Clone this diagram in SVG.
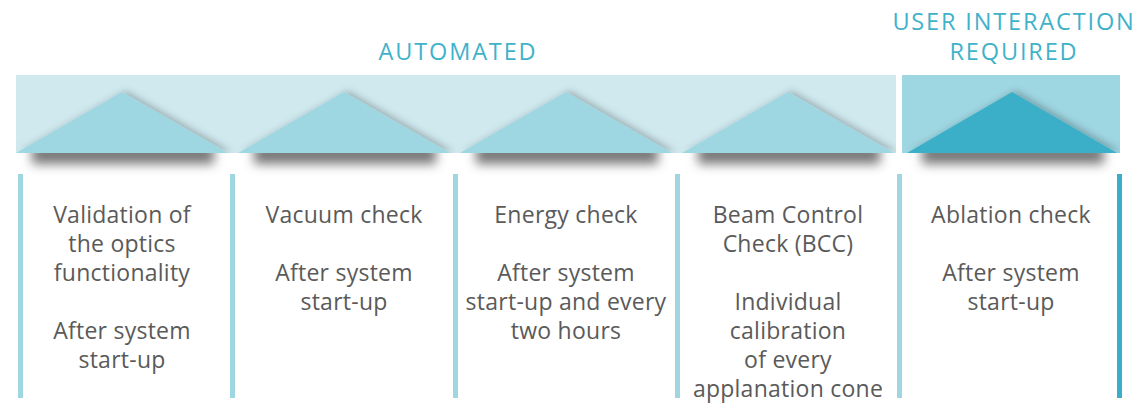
<svg xmlns="http://www.w3.org/2000/svg" width="1137" height="404" viewBox="0 0 1137 404">
  <defs>
    <filter id="under" x="-20%" y="-200%" width="140%" height="500%">
      <feGaussianBlur stdDeviation="5.5"/>
    </filter>
    <filter id="slope" x="-10%" y="-30%" width="130%" height="160%">
      <feDropShadow dx="4" dy="-1" stdDeviation="3.5" flood-color="#000" flood-opacity="0.25"/>
    </filter>
    <clipPath id="bandClip">
      <rect x="16" y="75" width="880" height="78"/>
      <rect x="902" y="75" width="218" height="78"/>
    </clipPath>
  </defs>
  <style>
    .head { font-family: "Open Sans", "Liberation Sans", sans-serif; font-size: 23.5px; fill: #3fb2ca; letter-spacing: 1.85px; text-anchor: middle; }
    .body { font-family: "Open Sans", "Liberation Sans", sans-serif; font-size: 23px; letter-spacing: 0.25px; fill: #5a5a5a; text-anchor: middle; }
    .band { fill: #cfe9ef; }
    .tri { fill: #9ed6e2; }
    .bar { fill: #9ed6e2; }
    .shade { fill: #555555; opacity: 0.8; }
  </style>

  <rect width="1137" height="404" fill="#ffffff"/>

  <!-- headings -->
  <text class="head" x="458" y="60">AUTOMATED</text>
  <text class="head" x="1014" y="30">USER INTERACTION</text>
  <text class="head" x="1014" y="60">REQUIRED</text>

  <!-- shadows under the band -->
  <g id="shadows">
    <rect class="shade" x="32" y="145" width="182" height="19" filter="url(#under)"/>
    <rect class="shade" x="254" y="145" width="182" height="19" filter="url(#under)"/>
    <rect class="shade" x="476" y="145" width="182" height="19" filter="url(#under)"/>
    <rect class="shade" x="698" y="145" width="182" height="19" filter="url(#under)"/>
    <rect class="shade" x="922" y="145" width="182" height="19" filter="url(#under)"/>
  </g>

  <!-- band backgrounds -->
  <rect class="band" x="16" y="75" width="880" height="78"/>
  <rect x="902" y="75" width="218" height="78" fill="#9ed6e2"/>

  <!-- triangles -->
  <g clip-path="url(#bandClip)">
    <polygon class="tri" points="16,153 122,92 228,153" filter="url(#slope)"/>
    <polygon class="tri" points="238,153 344,92 450,153" filter="url(#slope)"/>
    <polygon class="tri" points="460,153 566,92 672,153" filter="url(#slope)"/>
    <polygon class="tri" points="682,153 788,92 894,153" filter="url(#slope)"/>
    <polygon points="907,153 1012,92 1117,153" fill="#3aafc8" filter="url(#slope)"/>
  </g>

  <!-- column separators -->
  <g id="bars">
    <rect class="bar" x="18" y="174" width="5" height="224"/>
    <rect class="bar" x="230" y="174" width="5" height="224"/>
    <rect class="bar" x="453" y="174" width="5" height="224"/>
    <rect class="bar" x="675" y="174" width="5" height="224"/>
    <rect class="bar" x="897" y="174" width="5" height="224"/>
    <rect x="1117" y="174" width="5" height="224" fill="#3aaec8"/>
  </g>

  <g id="col1">
    <text class="body" x="122" y="223">Validation of</text>
    <text class="body" x="122" y="252">the optics</text>
    <text class="body" x="122" y="281">functionality</text>
    <text class="body" x="122" y="339">After system</text>
    <text class="body" x="122" y="368">start-up</text>
  </g>
  <g id="col2">
    <text class="body" x="344" y="223">Vacuum check</text>
    <text class="body" x="344" y="281">After system</text>
    <text class="body" x="344" y="310">start-up</text>
  </g>
  <g id="col3">
    <text class="body" x="566" y="223">Energy check</text>
    <text class="body" x="566" y="281">After system</text>
    <text class="body" x="566" y="310">start-up and every</text>
    <text class="body" x="566" y="339">two hours</text>
  </g>
  <g id="col4">
    <text class="body" x="788" y="223">Beam Control</text>
    <text class="body" x="788" y="252">Check (BCC)</text>
    <text class="body" x="788" y="310">Individual</text>
    <text class="body" x="788" y="339">calibration</text>
    <text class="body" x="788" y="368">of every</text>
    <text class="body" x="788" y="397">applanation cone</text>
  </g>
  <g id="col5">
    <text class="body" x="1011" y="223">Ablation check</text>
    <text class="body" x="1011" y="281">After system</text>
    <text class="body" x="1011" y="310">start-up</text>
  </g>
</svg>
